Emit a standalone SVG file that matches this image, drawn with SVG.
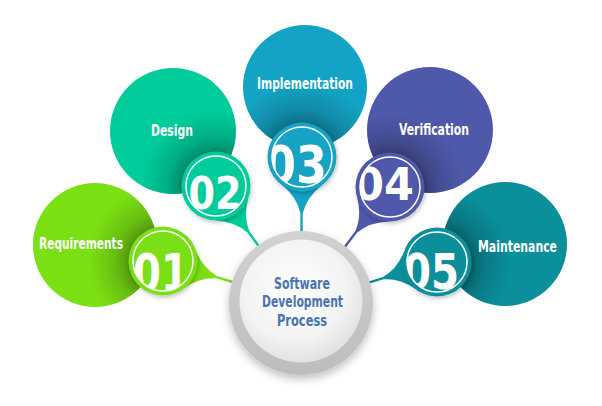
<svg xmlns="http://www.w3.org/2000/svg" xmlns:xlink="http://www.w3.org/1999/xlink" width="602" height="406" viewBox="0 0 602 406">
<style>
.lbl{font-family:"DejaVu Sans Condensed","DejaVu Sans",sans-serif;font-stretch:condensed;font-weight:bold;font-size:15px;fill:#fff;text-anchor:middle}
.num{font-family:"DejaVu Sans","Liberation Sans",sans-serif;font-weight:bold;fill:#fff;text-anchor:middle}
.ctr{font-family:"DejaVu Sans Condensed","DejaVu Sans",sans-serif;font-stretch:condensed;font-weight:bold;font-size:15px;fill:#4A74AE;text-anchor:middle}
.ring{fill:none;stroke:#fff;stroke-width:1.5}
</style>
<defs>
<path id="tail" d="M28,-20 Q40,-5 56,-1.2 L92,-1.2 L92,1.2 L56,1.2 Q40,5 28,20 Z"/>
<radialGradient id="sh">
<stop offset="0.45" stop-color="#000" stop-opacity="0.32"/>
<stop offset="0.65" stop-color="#000" stop-opacity="0.15"/>
<stop offset="1" stop-color="#000" stop-opacity="0"/>
</radialGradient>
<radialGradient id="inner" cx="0.45" cy="0.4" r="0.6">
<stop offset="0" stop-color="#ffffff"/>
<stop offset="0.7" stop-color="#f3f3f3"/>
<stop offset="1" stop-color="#e2e2e2"/>
</radialGradient>
<linearGradient id="outer" x1="0" y1="0" x2="0" y2="1">
<stop offset="0" stop-color="#d2d2d2"/>
<stop offset="1" stop-color="#bdbdbd"/>
</linearGradient>
<filter id="ds" x="-30%" y="-30%" width="160%" height="160%">
<feDropShadow dx="1" dy="2" stdDeviation="2" flood-color="#000" flood-opacity="0.25"/>
</filter>
<filter id="ds2" x="-30%" y="-30%" width="160%" height="160%">
<feDropShadow dx="0" dy="4" stdDeviation="4" flood-color="#000" flood-opacity="0.25"/>
</filter>
<clipPath id="b1"><circle cx="95" cy="245" r="62"/></clipPath>
<clipPath id="b2"><circle cx="173" cy="131" r="63"/></clipPath>
<clipPath id="b3"><circle cx="305" cy="87" r="62"/></clipPath>
<clipPath id="b4"><circle cx="430" cy="130" r="63"/></clipPath>
<clipPath id="b5"><circle cx="505" cy="244" r="62"/></clipPath>
<clipPath id="n1"><circle cx="163" cy="261" r="30"/></clipPath>
<clipPath id="n2"><circle cx="216" cy="186" r="30"/></clipPath>
<clipPath id="n3"><circle cx="302" cy="157" r="30"/></clipPath>
<clipPath id="n4"><circle cx="390" cy="187" r="30"/></clipPath>
<clipPath id="n5"><circle cx="437" cy="262" r="30"/></clipPath>
</defs>

<g id="connectors">
<use xlink:href="#tail" href="#tail" fill="#7ADF13" transform="translate(163,261) rotate(16.8)"/>
<use xlink:href="#tail" href="#tail" fill="#00CB9A" transform="translate(216,186) rotate(54.7)"/>
<use xlink:href="#tail" href="#tail" fill="#13A3C4" transform="translate(302,157) rotate(90.4)"/>
<use xlink:href="#tail" href="#tail" fill="#4F59AA" transform="translate(390,187) rotate(127)"/>
<use xlink:href="#tail" href="#tail" fill="#0A8F9B" transform="translate(437,262) rotate(163.2)"/>
</g>

<g id="node1">
<circle cx="95" cy="245" r="62" fill="#7ADF13"/>
<circle cx="163" cy="261" r="74" fill="url(#sh)" clip-path="url(#b1)"/>
<circle cx="163" cy="261" r="34.5" fill="#7ADF13" filter="url(#ds)"/>
<text class="num" x="161" y="291" font-size="52" textLength="56" lengthAdjust="spacingAndGlyphs" clip-path="url(#n1)">01</text>
<circle class="ring" cx="163" cy="261" r="30"/>
<text class="lbl" x="81" y="249" textLength="84" lengthAdjust="spacingAndGlyphs">Requirements</text>
</g>

<g id="node2">
<circle cx="173" cy="131" r="63" fill="#00CB9A"/>
<circle cx="216" cy="186" r="74" fill="url(#sh)" clip-path="url(#b2)"/>
<circle cx="216" cy="186" r="34.5" fill="#00CB9A" filter="url(#ds)"/>
<text class="num" x="215" y="209" font-size="44" textLength="53" lengthAdjust="spacingAndGlyphs" clip-path="url(#n2)">02</text>
<circle class="ring" cx="216" cy="186" r="30"/>
<text class="lbl" x="172" y="136" textLength="42" lengthAdjust="spacingAndGlyphs">Design</text>
</g>

<g id="node3">
<circle cx="305" cy="87" r="62" fill="#13A3C4"/>
<circle cx="302" cy="157" r="74" fill="url(#sh)" clip-path="url(#b3)"/>
<circle cx="302" cy="157" r="34.5" fill="#13A3C4" filter="url(#ds)"/>
<text class="num" x="296" y="183" font-size="52" textLength="62" lengthAdjust="spacingAndGlyphs" clip-path="url(#n3)">03</text>
<circle class="ring" cx="302" cy="157" r="30"/>
<text class="lbl" x="305" y="89" textLength="96" lengthAdjust="spacingAndGlyphs">Implementation</text>
</g>

<g id="node4">
<circle cx="430" cy="130" r="63" fill="#4F59AA"/>
<circle cx="390" cy="187" r="74" fill="url(#sh)" clip-path="url(#b4)"/>
<circle cx="390" cy="187" r="34.5" fill="#4F59AA" filter="url(#ds)"/>
<text class="num" x="384" y="200" font-size="44" textLength="60" lengthAdjust="spacingAndGlyphs" clip-path="url(#n4)">04</text>
<circle class="ring" cx="390" cy="187" r="30"/>
<text class="lbl" x="434" y="135" textLength="70" lengthAdjust="spacingAndGlyphs">Verification</text>
</g>

<g id="node5">
<circle cx="505" cy="244" r="62" fill="#0A8F9B"/>
<circle cx="437" cy="262" r="74" fill="url(#sh)" clip-path="url(#b5)"/>
<circle cx="437" cy="262" r="34.5" fill="#0A8F9B" filter="url(#ds)"/>
<text class="num" x="431" y="289" font-size="50" textLength="56" lengthAdjust="spacingAndGlyphs" clip-path="url(#n5)">05</text>
<circle class="ring" cx="437" cy="262" r="30"/>
<text class="lbl" x="517.5" y="252" textLength="79" lengthAdjust="spacingAndGlyphs">Maintenance</text>
</g>

<g id="center">
<circle cx="301" cy="303" r="72" fill="url(#outer)" filter="url(#ds2)"/>
<circle cx="301" cy="301" r="61.5" fill="url(#inner)"/>
<text class="ctr" x="302" y="289" textLength="56" lengthAdjust="spacingAndGlyphs">Software</text>
<text class="ctr" x="302.5" y="307" textLength="81" lengthAdjust="spacingAndGlyphs">Development</text>
<text class="ctr" x="302" y="325.5" textLength="50" lengthAdjust="spacingAndGlyphs">Process</text>
</g>
</svg>
